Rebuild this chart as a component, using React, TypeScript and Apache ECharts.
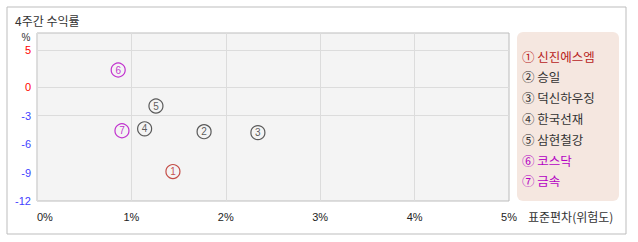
import React, { useEffect, useRef } from "react";
import * as echarts from "echarts";

const title = "4주간 수익률";
const xAxisName = "표준편차(위험도)";
const yAxisName = "%";
const names = ["신진에스엠", "승일", "덕신하우징", "한국선재", "삼현철강", "코스닥", "금속"];
const marks = ["①", "②", "③", "④", "⑤", "⑥", "⑦"];
const riskX = [1.44, 1.77, 2.34, 1.14, 1.26, 0.86, 0.9];
const returnY = [-8.9, -4.7, -4.8, -4.4, -2.0, 2.3, -4.6];
const pointColors = ["#b8231c", "#333333", "#333333", "#333333", "#333333", "#b400c4", "#b400c4"];
const yTicks = [5, 0, -3, -6, -9, -12];
const yGridLines = [5, 0, -3];
const xMin = 0;
const xMax = 5;
const xInterval = 1;
const yMin = -12;
const yMaxReal = 7.3;

// the positive half of the return axis is drawn compressed in the original
const POS_SCALE = 0.78;
const toAxis = (v: number) => (v >= 0 ? v * POS_SCALE : v);

const FONT = "'Noto Sans CJK KR', 'Liberation Sans', sans-serif";

export default function App() {
  const ref = useRef<HTMLDivElement>(null);
  useEffect(() => {
    if (!ref.current) return;
    const chart = echarts.init(ref.current, null, { renderer: "svg" });
    const yTickAxis = yTicks.map(toAxis);
    const labelFor = (v: any) => {
      const n = Number(v);
      const i = yTickAxis.findIndex((t) => Math.abs(t - n) < 1e-6);
      return i >= 0 ? String(yTicks[i]) : "";
    };
    const legendTop = 56;
    const legendGap = 20.8;
    chart.setOption({
      animation: false,
      textStyle: { fontFamily: FONT },
      grid: {
        left: 37,
        top: 33,
        right: 129,
        bottom: 41,
        show: true,
        backgroundColor: "#f4f4f4",
        borderColor: "#bdbdbd",
        borderWidth: 1,
      },
      xAxis: {
        type: "value",
        min: xMin,
        max: xMax,
        interval: xInterval,
        axisLine: { show: false },
        axisTick: { show: false },
        axisLabel: {
          formatter: "{value}%",
          color: "#222",
          fontSize: 11,
          margin: 10,
          alignMinLabel: "left",
          fontFamily: "'Liberation Sans', sans-serif",
        },
        splitLine: { show: true, lineStyle: { color: "#dcdcdc", width: 1 } },
      },
      yAxis: {
        type: "value",
        min: yMin,
        max: toAxis(yMaxReal),
        axisLine: { show: false },
        axisTick: { show: false },
        splitLine: { show: false },
        axisLabel: {
          customValues: yTickAxis,
          formatter: labelFor,
          fontSize: 11,
          margin: 6,
          fontFamily: "'Liberation Sans', sans-serif",
          color: (v: any) => (Number(v) >= 0 ? "#ff0000" : "#3f3fff"),
        },
      },
      graphic: [
        {
          type: "rect",
          shape: { x: 7, y: 7, width: 619, height: 227 },
          style: { fill: "none", stroke: "#bdbdbd", lineWidth: 1 },
          silent: true,
        },
        {
          type: "text",
          x: 15,
          y: 20,
          style: { text: title, fill: "#333", font: `12px ${FONT}`, textVerticalAlign: "middle" },
        },
        {
          type: "text",
          x: 26,
          y: 37,
          style: { text: yAxisName, fill: "#333", font: `10px 'Liberation Sans', sans-serif`, textAlign: "center", textVerticalAlign: "middle" },
        },
        {
          type: "text",
          x: 528,
          y: 216,
          style: { text: xAxisName, fill: "#333", font: `12px ${FONT}`, textVerticalAlign: "middle" },
        },
        {
          type: "rect",
          shape: { x: 517, y: 32, width: 102, height: 169, r: 6 },
          style: { fill: "#f5e7e0" },
          silent: true,
        },
        ...names.map((n, i) => ({
          type: "text",
          x: 522,
          y: legendTop + i * legendGap,
          style: {
            text: `${marks[i]} ${n}`,
            fill: pointColors[i],
            font: `12.5px ${FONT}`,
            textVerticalAlign: "middle",
          },
        })),
      ],
      series: [
        {
          type: "scatter",
          symbol: "circle",
          symbolSize: 14,
          silent: true,
          emphasis: { disabled: true },
          data: riskX.map((x, i) => ({
            value: [x, toAxis(returnY[i])],
            itemStyle: { color: "rgba(0,0,0,0)", borderColor: pointColors[i], borderWidth: 1.2 },
            label: {
              show: true,
              position: "inside",
              formatter: String(i + 1),
              color: pointColors[i],
              fontSize: 10,
              fontFamily: "'Liberation Sans', sans-serif",
            },
          })),
          markLine: {
            silent: true,
            symbol: "none",
            label: { show: false },
            lineStyle: { color: "#dcdcdc", type: "solid", width: 1 },
            data: yGridLines.map((v) => ({ yAxis: toAxis(v) })),
          },
        },
      ],
    });
    return () => chart.dispose();
  }, []);
  return (
    <div
      ref={ref}
      style={{ position: "absolute", left: 0, top: 0, width: 638, height: 242, background: "#fff" }}
    />
  );
}
